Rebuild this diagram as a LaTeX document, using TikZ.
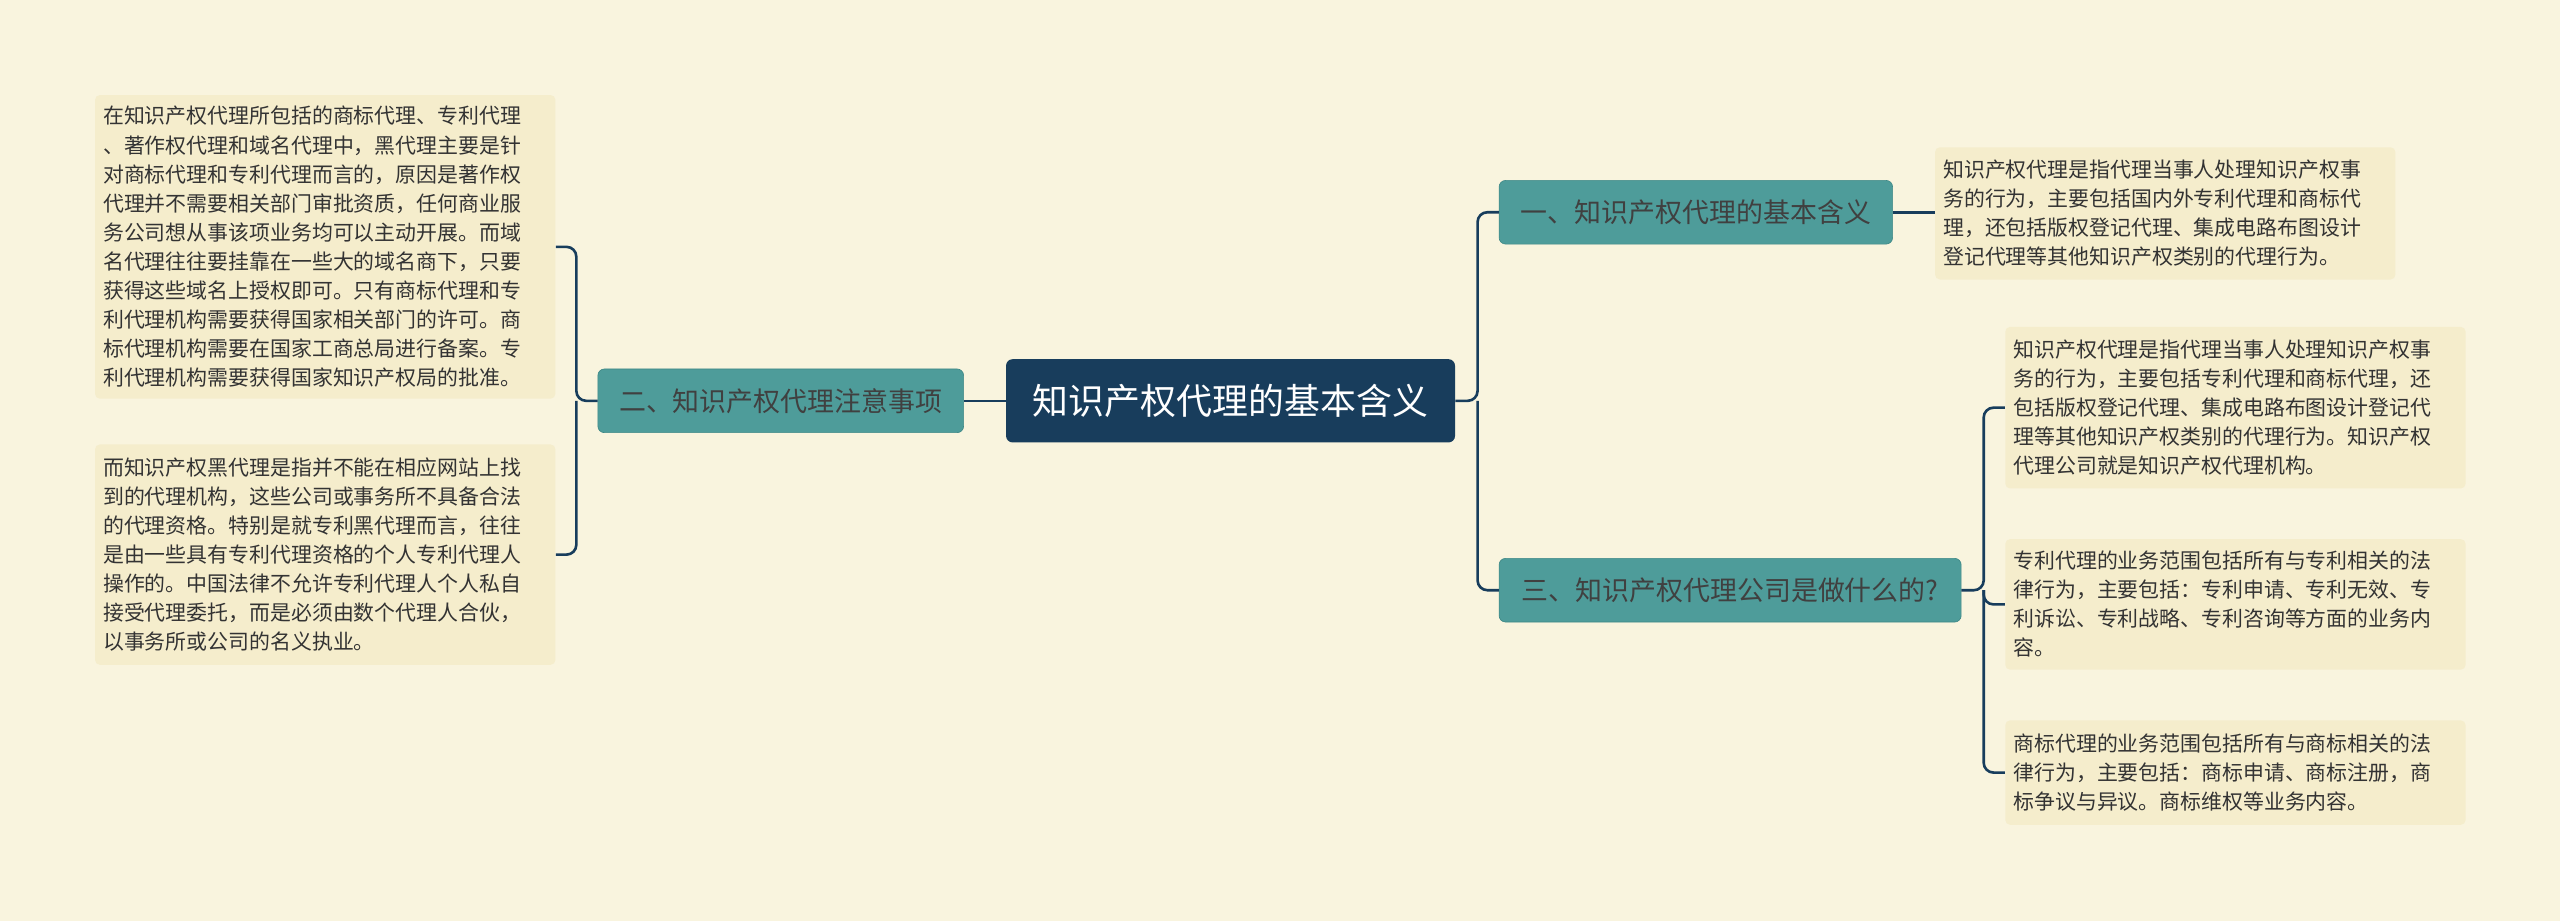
\documentclass[tikz,border=0pt]{standalone}
\usepackage{fontspec}
\setmainfont{Noto Sans CJK SC}
\begin{document}
\begin{tikzpicture}[x=1pt,y=-1pt,
  leaf/.style={fill=leafc,rounded corners=3pt,inner sep=5pt,align=left,anchor=north west,font=\fontsize{12.8}{17.8}\selectfont,text=black!80},
  branch/.style={fill=teal1,draw=teal2,rounded corners=4pt,font=\fontsize{16.5}{20}\selectfont,text=black!75,minimum height=39pt,anchor=west,inner xsep=6pt},
  conn/.style={draw=navy,line width=1.6pt,rounded corners=6pt}]
\definecolor{bg}{HTML}{F9F4DE}
\definecolor{leafc}{HTML}{F5EDCC}
\definecolor{teal1}{HTML}{4E9C9A}
\definecolor{teal2}{HTML}{3F8886}
\definecolor{navy}{HTML}{183D5C}
\fill[bg] (0,0) rectangle (1568,564);
\useasboundingbox (0,0) rectangle (1568,564);
\node[fill=navy,rounded corners=4pt,text=white,font=\fontsize{22}{26}\selectfont,minimum width=275pt,minimum height=51pt,anchor=west] (c) at (616,245.5) {知识产权代理的基本含义};
\node[branch,minimum width=224pt] (b2) at (366,245.5) {二、知识产权代理注意事项};
\node[branch,minimum width=241pt] (b1) at (918,130) {一、知识产权代理的基本含义};
\node[branch,minimum width=283pt] (b3) at (918,361.5) {三、知识产权代理公司是做什么的?};
\node[leaf,text width=272pt,minimum height=186pt] (l1) at (58,58) {在知识产权代理所包括的商标代理、专利代理\\、著作权代理和域名代理中，黑代理主要是针\\对商标代理和专利代理而言的，原因是著作权\\代理并不需要相关部门审批资质，任何商业服\\务公司想从事该项业务均可以主动开展。而域\\名代理往往要挂靠在一些大的域名商下，只要\\获得这些域名上授权即可。只有商标代理和专\\利代理机构需要获得国家相关部门的许可。商\\标代理机构需要在国家工商总局进行备案。专\\利代理机构需要获得国家知识产权局的批准。};
\node[leaf,text width=272pt,minimum height=135pt] (l2) at (58,272) {而知识产权黑代理是指并不能在相应网站上找\\到的代理机构，这些公司或事务所不具备合法\\的代理资格。特别是就专利黑代理而言，往往\\是由一些具有专利代理资格的个人专利代理人\\操作的。中国法律不允许专利代理人个人私自\\接受代理委托，而是必须由数个代理人合伙，\\以事务所或公司的名义执业。};
\node[leaf,text width=272pt,minimum height=81pt] (r1) at (1185,90) {知识产权代理是指代理当事人处理知识产权事\\务的行为，主要包括国内外专利代理和商标代\\理，还包括版权登记代理、集成电路布图设计\\登记代理等其他知识产权类别的代理行为。};
\node[leaf,text width=272pt,minimum height=99pt] (r2) at (1228,200) {知识产权代理是指代理当事人处理知识产权事\\务的行为，主要包括专利代理和商标代理，还\\包括版权登记代理、集成电路布图设计登记代\\理等其他知识产权类别的代理行为。知识产权\\代理公司就是知识产权代理机构。};
\node[leaf,text width=272pt,minimum height=80pt] (r3) at (1228,330) {专利代理的业务范围包括所有与专利相关的法\\律行为，主要包括：专利申请、专利无效、专\\利诉讼、专利战略、专利咨询等方面的业务内\\容。};
\node[leaf,text width=272pt,minimum height=64pt] (r4) at (1228,441) {商标代理的业务范围包括所有与商标相关的法\\律行为，主要包括：商标申请、商标注册，商\\标争议与异议。商标维权等业务内容。};
% connectors
\draw[conn] (c.west) -- (b2.east);
\draw[conn] (b2.west) -- (353,245.5) |- (l1.east);
\draw[conn] (353,245.5) |- (l2.east);
\draw[conn] (c.east) -- (905,245.5) |- (b1.west);
\draw[conn] (905,245.5) |- (b3.west);
\draw[conn] (b1.east) -- (r1.west |- b1.east);
\draw[conn] (b3.east) -- (1215,361.5) |- (r2.west);
\draw[conn] (1215,361.5) |- (r3.west);
\draw[conn] (1215,361.5) |- (r4.west);
\end{tikzpicture}
\end{document}
